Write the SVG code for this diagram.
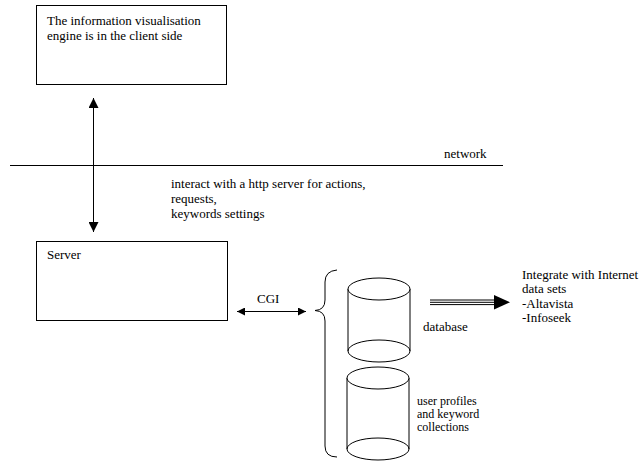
<svg xmlns="http://www.w3.org/2000/svg" width="643" height="463" viewBox="0 0 643 463">
<defs>
<style>
.box{fill:#fff;stroke:#000;stroke-width:1}
.ln{fill:none;stroke:#000;stroke-width:1}
text{font-family:'Liberation Serif', 'Times New Roman', Times, serif;font-size:13px;fill:#000}
.s{font-size:12px}
.cyl{fill:#fff;stroke:#000;stroke-width:1}
</style>
<marker id="ah" viewBox="0 0 10 10" refX="10" refY="5" markerWidth="10" markerHeight="10" markerUnits="userSpaceOnUse" orient="auto-start-reverse">
<path d="M0,0 L10,5 L0,10 Z" fill="#000"/>
</marker>
<marker id="ah2" viewBox="0 0 8 8" refX="8" refY="4" markerWidth="8" markerHeight="8" markerUnits="userSpaceOnUse" orient="auto-start-reverse">
<path d="M0,0 L8,4 L0,8 Z" fill="#000"/>
</marker>
</defs>
<rect width="643" height="463" fill="#fff"/>
<g font-family="Liberation Serif, serif">
<g id="client">
<rect class="box" x="36.5" y="5.5" width="190" height="79"/>
<text x="47" y="25">The information visualisation</text>
<text x="47" y="40">engine is in the client side</text>
</g>
<g id="network">
<line class="ln" x1="10" y1="165.5" x2="503" y2="165.5"/>
<text x="444" y="158">network</text>
</g>
<g id="server">
<rect class="box" x="36.5" y="241.5" width="191" height="79"/>
<text x="47" y="259">Server</text>
</g>
<g id="database">
<path class="cyl" d="M348,289 V351 A31,11 0 0 0 410,351 V289"/>
<ellipse class="cyl" cx="379" cy="289" rx="31" ry="11"/>
<path class="ln" d="M348,351 A31,11 0 0 1 410,351"/>
<text x="423" y="331">database</text>
</g>
<g id="profiles">
<path class="cyl" d="M347,378 V449 A31,11 0 0 0 409,449 V378"/>
<ellipse class="cyl" cx="378" cy="378" rx="31" ry="11"/>
<path class="ln" d="M347,449 A31,11 0 0 1 409,449"/>
<text class="s" x="417" y="405">user profiles</text>
<text class="s" x="417" y="418">and keyword</text>
<text class="s" x="417" y="431">collections</text>
</g>
<g id="internet">
<text x="522" y="279">Integrate with Internet</text>
<text x="522" y="293">data sets</text>
<text x="522" y="308">-Altavista</text>
<text x="522" y="322">-Infoseek</text>
</g>
<g id="labels">
<text x="171" y="188">interact with a http server for actions,</text>
<text x="171" y="203">requests,</text>
<text x="171" y="218">keywords settings</text>
<text x="257" y="303">CGI</text>
</g>
</g>
<g id="connectors">
<line class="ln" x1="93.5" y1="98" x2="93.5" y2="232" marker-start="url(#ah)" marker-end="url(#ah)"/>
<line class="ln" x1="237" y1="311.5" x2="306" y2="311.5" marker-start="url(#ah2)" marker-end="url(#ah2)"/>
<path class="ln" d="M337,270 Q325,271 325,282 V300 Q325,310 315,310.5 Q325,311 325,321 V446 Q325,457 337,457"/>
<g stroke="#000" stroke-width="1">
<line x1="430" y1="300" x2="496" y2="300"/>
<line x1="430" y1="302.3" x2="496" y2="302.3"/>
<line x1="430" y1="304.6" x2="496" y2="304.6"/>
</g>
<path d="M494,295 L510,302.3 L494,309.5 Z" fill="#000"/>
</g>
</svg>
